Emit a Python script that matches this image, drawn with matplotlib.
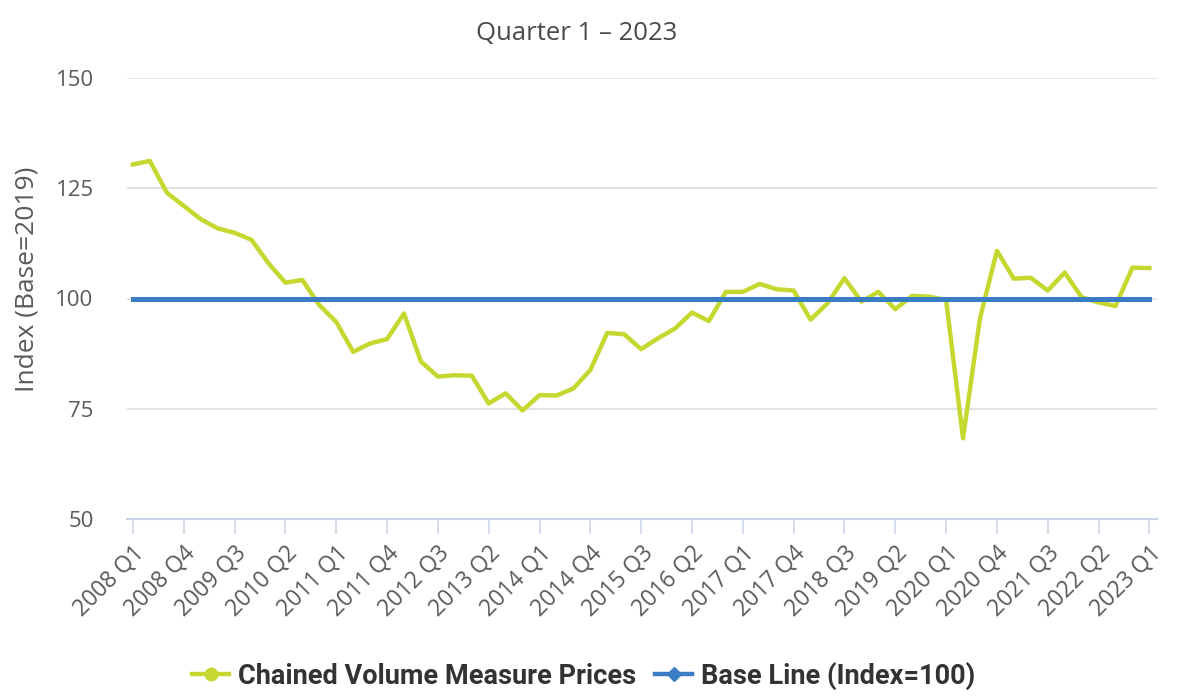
import matplotlib
matplotlib.use("Agg")
import matplotlib.pyplot as plt
from matplotlib.lines import Line2D

plt.rcParams['font.family'] = ['Open Sans', 'DejaVu Sans']

years = list(range(2008, 2024))
quarters = [f"{y} Q{q}" for y in years for q in range(1, 5)][:61]

cvm_prices = [130.4, 131.2, 124.0, 121.0, 118.0, 115.9, 114.9, 113.3,
              108.0, 103.6, 104.2, 98.5, 94.7, 87.9, 89.8, 90.8,
              96.6, 85.7, 82.3, 82.6, 82.5, 76.2, 78.5, 74.6,
              78.1, 78.0, 79.6, 83.8, 92.2, 91.9, 88.5, 91.0,
              93.2, 96.8, 94.9, 101.5, 101.5, 103.3, 102.1, 101.8,
              95.2, 98.9, 104.6, 99.3, 101.5, 97.6, 100.6, 100.4,
              99.7, 68.3, 95.5, 110.8, 104.5, 104.7, 101.8, 105.9,
              100.3, 99.1, 98.3, 107.0, 106.9]
base_line = [100] * len(quarters)
y_ticks = [50, 75, 100, 125, 150]

green = "#c4d830"
blue = "#3b7dc4"
grey_text = "#5a5a5a"

fig = plt.figure(figsize=(11.78, 6.97), dpi=100)
ax = fig.add_axes([127/1178, 1 - 519/697, (1157-127)/1178, (519-78)/697])

x = list(range(len(quarters)))
ax.plot(x, cvm_prices, color=green, lw=3.2, zorder=3)
ax.plot(x, base_line, color=blue, lw=3.6, zorder=4)

ax.set_xlim(-0.35, len(quarters) - 1 + 0.45)
ax.set_ylim(50, 150)
ax.set_yticks(y_ticks)
ax.set_yticklabels([str(v) for v in y_ticks], fontsize=16, color=grey_text)
ax.grid(axis='y', color='#dddddd', lw=1.2)
ax.set_axisbelow(True)

xt = x[::3]
ax.set_xticks(xt)
ax.set_xticklabels([quarters[i] for i in xt], rotation=45, ha='right',
                   rotation_mode='anchor', fontsize=16.5, color=grey_text)
ax.tick_params(axis='x', length=11, color='#ccd6eb', width=1.2, pad=5)
ax.tick_params(axis='y', length=0, pad=24)

for s in ['top', 'right', 'left']:
    ax.spines[s].set_visible(False)
ax.spines['bottom'].set_color('#ccd6eb')
ax.spines['bottom'].set_linewidth(1.5)

fig.text(27/1178, 1 - 279/697, "Index (Base=2019)", rotation=90,
         ha='center', va='center', fontsize=19, color=grey_text)
fig.text(577/1178, 1 - 33/697, "Quarter 1 \u2013 2023", ha='center', va='center',
         fontsize=18.5, color='#4a4a4a')

handles = [Line2D([], [], color=green, lw=3.2, marker='o', markersize=9),
           Line2D([], [], color=blue, lw=3.2, marker='D', markersize=7)]
fig.legend(handles, ["Chained Volume Measure Prices", "Base Line (Index=100)"],
           loc='center', bbox_to_anchor=(584/1178, 1 - 676/697), ncol=2,
           frameon=False,
           prop={'family': ['Roboto', 'DejaVu Sans'],
                 'weight': 'bold', 'size': 19.5},
           handlelength=1.35, columnspacing=0.7, handletextpad=0.35,
           labelcolor='#333333')

fig.savefig("out.png", dpi=100, facecolor='white')
